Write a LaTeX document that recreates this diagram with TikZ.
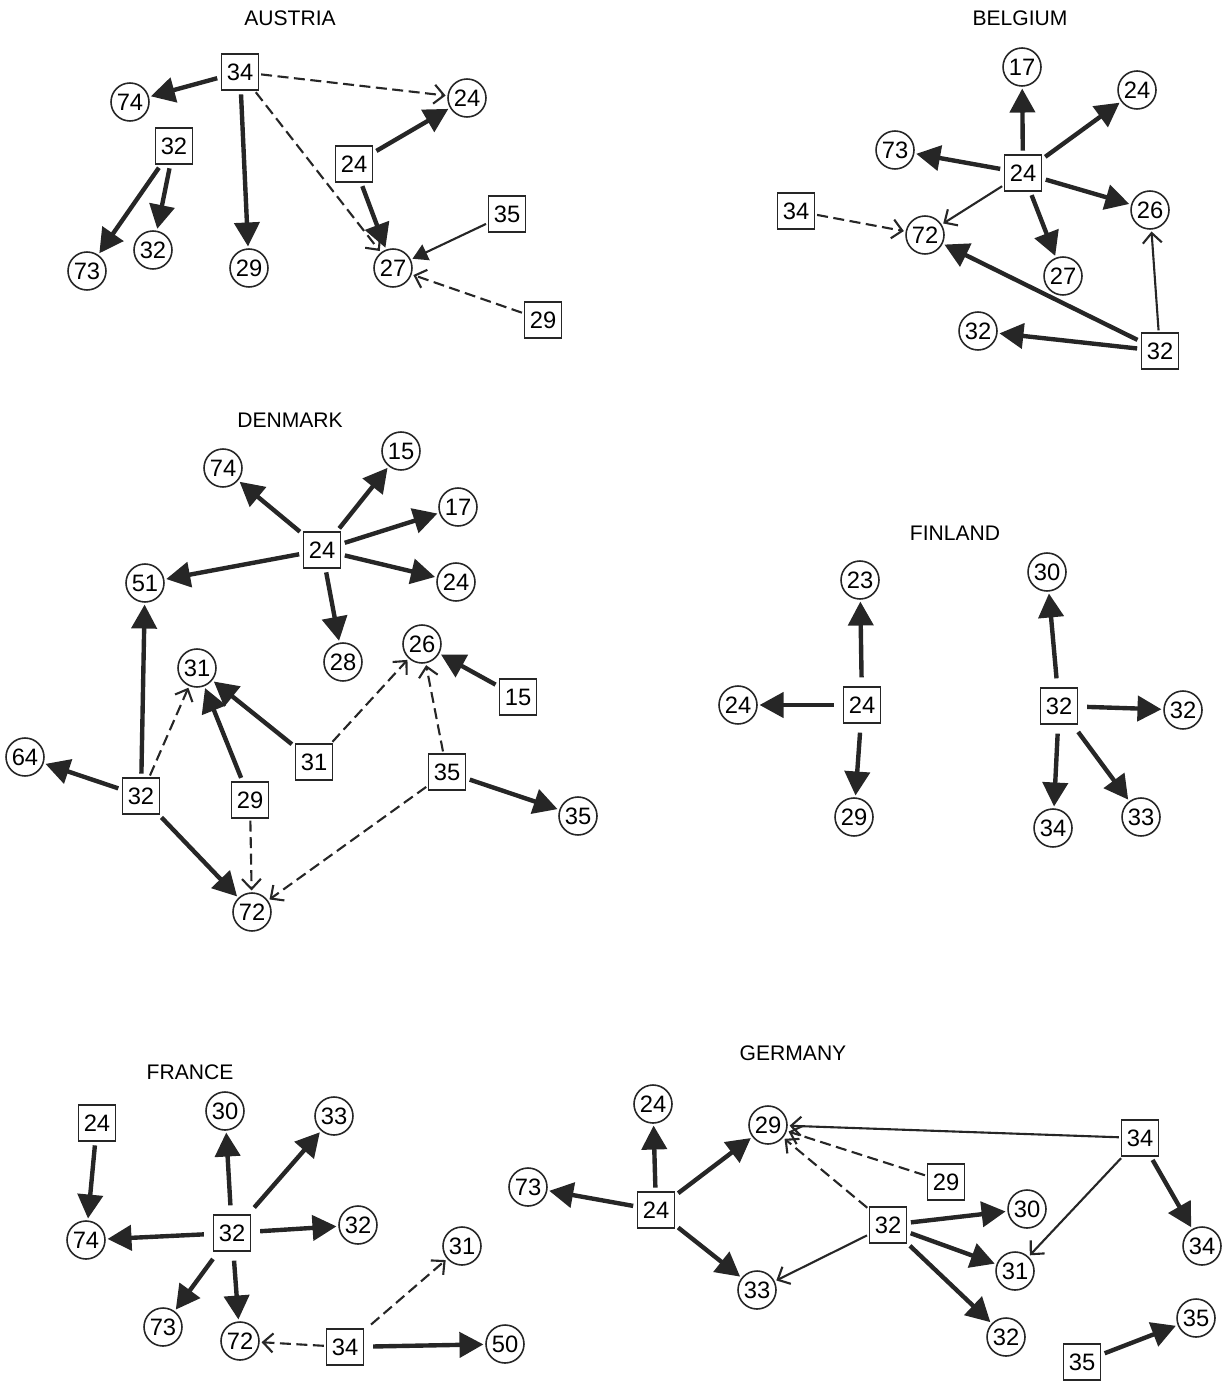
\documentclass[tikz,border=0pt]{standalone}
\usepackage{fontspec}
\setmainfont{Liberation Sans}
\usetikzlibrary{arrows.meta}
\tikzset{
  sq/.style  ={draw=black!85, line width=1pt, minimum width=7.4mm, minimum height=7.2mm,
               inner sep=0pt, fill=white, font=\fontsize{13.5}{15}\selectfont},
  cc/.style  ={circle, draw=black!85, line width=0.9pt, minimum size=7.6mm, inner sep=0pt,
               fill=white, font=\fontsize{13.5}{15}\selectfont},
  lbl/.style ={font=\fontsize{12}{14}\selectfont},
  ar/.style  ={-{Triangle[length=4.8mm,width=5mm]}, draw=black!85, line width=2.5pt,
               shorten <=2pt, shorten >=1pt},
  arm/.style ={-{Triangle[length=3mm,width=3.4mm]}, draw=black!85, line width=1.2pt,
               shorten <=1pt, shorten >=1pt},
  art/.style ={-{Straight Barb[length=2mm,width=3.8mm]}, draw=black!85, line width=1.2pt,
               shorten <=1pt, shorten >=1pt},
  arw/.style ={art, dash pattern=on 2.2mm off 1.1mm},
}
\begin{document}
\begin{tikzpicture}[x=0.02cm, y=-0.02cm]
\useasboundingbox (0,0) rectangle (1224,1381);

% ---- austria ----
\node[lbl] (at) at (290,18) {AUSTRIA};
\node[sq] (at-s34) at (240,72) {34};
\node[cc] (at-c74) at (130,102) {74};
\node[cc] (at-c24) at (467,98) {24};
\node[sq] (at-s32) at (174,146) {32};
\node[sq] (at-s24) at (354,164) {24};
\node[sq] (at-s35) at (507,214) {35};
\node[cc] (at-c73) at (87,271) {73};
\node[cc] (at-c32) at (153,250) {32};
\node[cc] (at-c29) at (249,268) {29};
\node[cc] (at-c27) at (393,268) {27};
\node[sq] (at-s29) at (543,320) {29};

\draw[ar] (at-s34) -- (at-c74);
\draw[ar] (at-s34) -- (at-c29);
\draw[arw] (at-s34) -- (at-c24);
\draw[arw] (at-s34) -- (at-c27);
\draw[ar] (at-s32) -- (at-c73);
\draw[ar] (at-s32) -- (at-c32);
\draw[ar] (at-s24) -- (at-c24);
\draw[ar] (at-s24) -- (at-c27);
\draw[arm] (at-s35) -- (at-c27);
\draw[arw] (at-s29) -- (at-c27);

% ---- belgium ----
\node[lbl] (be) at (1020,18) {BELGIUM};
\node[cc] (be-c17) at (1022,67) {17};
\node[cc] (be-c24) at (1137,90) {24};
\node[cc] (be-c73) at (895,150) {73};
\node[sq] (be-s24) at (1023,173) {24};
\node[sq] (be-s34) at (796,211) {34};
\node[cc] (be-c26) at (1150,210) {26};
\node[cc] (be-c72) at (925,235) {72};
\node[cc] (be-c27) at (1063,276) {27};
\node[cc] (be-c32) at (978,331) {32};
\node[sq] (be-s32) at (1160,351) {32};

\draw[ar] (be-s24) -- (be-c17);
\draw[ar] (be-s24) -- (be-c24);
\draw[ar] (be-s24) -- (be-c73);
\draw[ar] (be-s24) -- (be-c26);
\draw[ar] (be-s24) -- (be-c27);
\draw[art] (be-s24) -- (be-c72);
\draw[arw] (be-s34) -- (be-c72);
\draw[ar] (be-s32) -- (be-c72);
\draw[ar] (be-s32) -- (be-c32);
\draw[art] (be-s32) -- (be-c26);

% ---- denmark ----
\node[lbl] (dk) at (290,420) {DENMARK};
\node[cc] (dk-c15) at (401,451) {15};
\node[cc] (dk-c74) at (223,468) {74};
\node[cc] (dk-c17) at (458,507) {17};
\node[sq] (dk-s24) at (322,550) {24};
\node[cc] (dk-c51) at (145,583) {51};
\node[cc] (dk-c24) at (456,582) {24};
\node[cc] (dk-c26) at (422,644) {26};
\node[cc] (dk-c28) at (343,662) {28};
\node[cc] (dk-c31) at (197,668) {31};
\node[sq] (dk-s15) at (518,697) {15};
\node[cc] (dk-c64) at (25,757) {64};
\node[sq] (dk-s31) at (314,762) {31};
\node[sq] (dk-s35) at (447,772) {35};
\node[sq] (dk-s32) at (141,796) {32};
\node[sq] (dk-s29) at (250,800) {29};
\node[cc] (dk-c35) at (578,816) {35};
\node[cc] (dk-c72) at (252,912) {72};

\draw[ar] (dk-s24) -- (dk-c74);
\draw[ar] (dk-s24) -- (dk-c15);
\draw[ar] (dk-s24) -- (dk-c17);
\draw[ar] (dk-s24) -- (dk-c51);
\draw[ar] (dk-s24) -- (dk-c24);
\draw[ar] (dk-s24) -- (dk-c28);
\draw[ar] (dk-s32) -- (dk-c51);
\draw[ar] (dk-s32) -- (dk-c64);
\draw[ar] (dk-s32) -- (dk-c72);
\draw[arw] (dk-s32) -- (dk-c31);
\draw[ar] (dk-s29) -- (dk-c31);
\draw[arw] (dk-s29) -- (dk-c72);
\draw[ar] (dk-s31) -- (dk-c31);
\draw[arw] (dk-s31) -- (dk-c26);
\draw[arw] (dk-s35) -- (dk-c26);
\draw[arw] (dk-s35) -- (dk-c72);
\draw[ar] (dk-s35) -- (dk-c35);
\draw[ar] (dk-s15) -- (dk-c26);

% ---- finland ----
\node[lbl] (fi) at (955,533) {FINLAND};
\node[cc] (fi-c23) at (860,580) {23};
\node[cc] (fi-c30) at (1047,572) {30};
\node[sq] (fi-s24) at (862,705) {24};
\node[cc] (fi-c24) at (738,705) {24};
\node[sq] (fi-s32) at (1059,706) {32};
\node[cc] (fi-c32) at (1183,710) {32};
\node[cc] (fi-c29) at (854,817) {29};
\node[cc] (fi-c34) at (1053,828) {34};
\node[cc] (fi-c33) at (1141,817) {33};

\draw[ar, shorten <=5pt] (fi-s24) -- (fi-c23);
\draw[ar, shorten <=5pt] (fi-s24) -- (fi-c24);
\draw[ar, shorten <=5pt] (fi-s24) -- (fi-c29);
\draw[ar, shorten <=5pt] (fi-s32) -- (fi-c30);
\draw[ar, shorten <=5pt] (fi-s32) -- (fi-c32);
\draw[ar, shorten <=5pt] (fi-s32) -- (fi-c34);
\draw[ar, shorten <=5pt] (fi-s32) -- (fi-c33);

% ---- france ----
\node[lbl] (fr) at (190,1072) {FRANCE};
\node[sq] (fr-s24) at (97,1123) {24};
\node[cc] (fr-c30) at (225,1111) {30};
\node[cc] (fr-c33) at (334,1116) {33};
\node[cc] (fr-c74) at (86,1240) {74};
\node[sq] (fr-s32) at (232,1233) {32};
\node[cc] (fr-c32) at (358,1225) {32};
\node[cc] (fr-c31) at (462,1246) {31};
\node[cc] (fr-c73) at (163,1327) {73};
\node[cc] (fr-c72) at (240,1341) {72};
\node[sq] (fr-s34) at (345,1347) {34};
\node[cc] (fr-c50) at (505,1344) {50};

\draw[ar] (fr-s24) -- (fr-c74);
\draw[ar, shorten <=5pt] (fr-s32) -- (fr-c30);
\draw[ar, shorten <=5pt] (fr-s32) -- (fr-c33);
\draw[ar, shorten <=5pt] (fr-s32) -- (fr-c32);
\draw[ar, shorten <=5pt] (fr-s32) -- (fr-c74);
\draw[ar, shorten <=5pt] (fr-s32) -- (fr-c73);
\draw[ar, shorten <=5pt] (fr-s32) -- (fr-c72);
\draw[arw] (fr-s34) -- (fr-c72);
\draw[arw, shorten <=5pt] (fr-s34) -- (fr-c31);
\draw[ar, shorten <=5pt] (fr-s34) -- (fr-c50);

% ---- germany ----
\node[lbl] (de) at (793,1053) {GERMANY};
\node[cc] (de-c24) at (653,1104) {24};
\node[cc] (de-c29) at (768,1125) {29};
\node[sq] (de-s34) at (1140,1138) {34};
\node[sq] (de-s29) at (946,1182) {29};
\node[cc] (de-c73) at (528,1187) {73};
\node[sq] (de-s24) at (656,1210) {24};
\node[sq] (de-s32) at (888,1225) {32};
\node[cc] (de-c30) at (1027,1209) {30};
\node[cc] (de-c31) at (1015,1271) {31};
\node[cc] (de-c34) at (1202,1246) {34};
\node[cc] (de-c33) at (757,1290) {33};
\node[cc] (de-c32) at (1006,1337) {32};
\node[cc] (de-c35) at (1196,1318) {35};
\node[sq] (de-s35) at (1082,1362) {35};

\draw[ar] (de-s24) -- (de-c24);
\draw[ar] (de-s24) -- (de-c73);
\draw[ar] (de-s24) -- (de-c29);
\draw[ar] (de-s24) -- (de-c33);
\draw[art] (de-s34) -- (de-c29);
\draw[art] (de-s34) -- (de-c31);
\draw[ar] (de-s34) -- (de-c34);
\draw[arw] (de-s29) -- (de-c29);
\draw[arw] (de-s32) -- (de-c29);
\draw[ar] (de-s32) -- (de-c30);
\draw[ar] (de-s32) -- (de-c31);
\draw[ar] (de-s32) -- (de-c32);
\draw[art] (de-s32) -- (de-c33);
\draw[ar] (de-s35) -- (de-c35);

\end{tikzpicture}
\end{document}
